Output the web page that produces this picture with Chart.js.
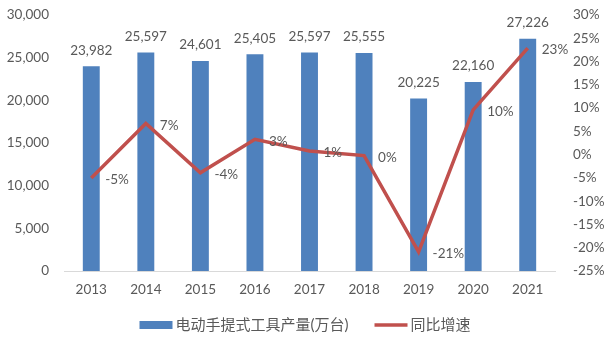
<!DOCTYPE html>
<html>
<head>
<meta charset="utf-8">
<script src="https://cdn.jsdelivr.net/npm/chart.js@4"></script>
<style>
    html, body { margin: 0; padding: 0; background: #fff; }
    .chart-box { position: relative; width: 610px; height: 346px; }
</style>
</head>
<body>
<div class="chart-box">
    <canvas id="output-canvas"></canvas>
</div>
<script>
const years = ['2013', '2014', '2015', '2016', '2017', '2018', '2019', '2020', '2021'];
const output = [23982, 25597, 24601, 25405, 25597, 25555, 20225, 22160, 27226];
const growth = [-5.0, 6.7, -3.9, 3.3, 0.8, -0.2, -20.9, 9.6, 22.9];
const leftTicks = [0, 5000, 10000, 15000, 20000, 25000, 30000];
const rightTicks = [-25, -20, -15, -10, -5, 0, 5, 10, 15, 20, 25, 30];

const TEXT = '#595959';
const BAR_COLOR = '#4F81BD';
const LINE_COLOR = '#C0504D';
const NUM_FONT = { family: 'Lato, "Liberation Sans", sans-serif', size: 13.5 };
const CJK_FONT = { family: 'Lato, "Noto Sans CJK SC", sans-serif', size: 15 };

// value labels: numbers above the bars, percentages to the right of the points
const valueLabels = {
    id: 'valueLabels',
    afterDatasetsDraw(chart) {
        const ctx = chart.ctx;
        ctx.save();
        ctx.fillStyle = TEXT;
        ctx.font = `${NUM_FONT.size}px ${NUM_FONT.family}`;
        ctx.textBaseline = 'middle';

        chart.getDatasetMeta(0).data.forEach((bar, i) => {
            ctx.textAlign = 'center';
            ctx.fillText(output[i].toLocaleString('en-US'), bar.x, bar.y - 16);
        });

        chart.getDatasetMeta(1).data.forEach((pt, i) => {
            ctx.textAlign = 'left';
            ctx.fillText(Math.round(growth[i]) + '%', pt.x + 14, pt.y + 2);
        });
        ctx.restore();
    }
};

// bottom legend: swatch tight against the text, items centred on the canvas
const bottomLegend = {
    id: 'bottomLegend',
    afterDraw(chart) {
        const ctx = chart.ctx;
        const ds = chart.data.datasets;
        const swatch = 33, textGap = 3, itemGap = 26;
        const y = 325;
        ctx.save();
        ctx.font = `${CJK_FONT.size}px ${CJK_FONT.family}`;
        ctx.textBaseline = 'middle';
        ctx.textAlign = 'left';

        const widths = ds.map(d => ctx.measureText(d.label).width);
        const total = widths.reduce((a, w) => a + swatch + textGap + w, 0) + itemGap * (ds.length - 1);
        let x = (chart.width - total) / 2;

        ds.forEach((d, i) => {
            if (d.type === 'bar') {
                ctx.fillStyle = d.backgroundColor;
                ctx.fillRect(x, y - 4, swatch, 8);
            } else {
                ctx.strokeStyle = d.borderColor;
                ctx.lineWidth = d.borderWidth;
                ctx.beginPath();
                ctx.moveTo(x, y);
                ctx.lineTo(x + swatch, y);
                ctx.stroke();
            }
            ctx.fillStyle = TEXT;
            ctx.fillText(d.label, x + swatch + textGap, y);
            x += swatch + textGap + widths[i] + itemGap;
        });
        ctx.restore();
    }
};

// fixed axis widths; drop the extra top/bottom room the tick padding adds
const fitY = width => s => {
    s.width = width;
    s.paddingTop = 0;
    s.paddingBottom = 0;
};

new Chart(document.getElementById('output-canvas'), {
    data: {
        labels: years,
        datasets: [
            {
                type: 'bar',
                label: '电动手提式工具产量(万台)',
                data: output,
                yAxisID: 'y',
                backgroundColor: BAR_COLOR,
                borderWidth: 0,
                categoryPercentage: 1,
                barPercentage: 0.31,
                order: 2
            },
            {
                type: 'line',
                label: '同比增速',
                data: growth,
                yAxisID: 'y1',
                borderColor: LINE_COLOR,
                backgroundColor: LINE_COLOR,
                borderWidth: 3.5,
                pointRadius: 0,
                tension: 0,
                order: 1
            }
        ]
    },
    options: {
        responsive: true,
        maintainAspectRatio: false,
        animation: false,
        layout: { padding: { top: 15, left: 0, right: 0, bottom: 39 } },
        scales: {
            x: {
                grid: { display: false },
                border: { color: '#D9D9D9', width: 1 },
                ticks: { color: TEXT, font: NUM_FONT, padding: 3 },
                afterFit: s => { s.height = 36; }
            },
            y: {
                position: 'left',
                min: 0,
                max: 30000,
                grid: { display: false },
                border: { display: false },
                afterBuildTicks: s => { s.ticks = leftTicks.map(v => ({ value: v })); },
                ticks: {
                    color: TEXT,
                    font: NUM_FONT,
                    padding: 7,
                    callback: v => v.toLocaleString('en-US')
                },
                afterFit: fitY(64)
            },
            y1: {
                position: 'right',
                min: -25,
                max: 30,
                grid: { display: false },
                border: { display: false },
                afterBuildTicks: s => { s.ticks = rightTicks.map(v => ({ value: v })); },
                ticks: {
                    color: TEXT,
                    font: NUM_FONT,
                    padding: 10,
                    callback: v => v + '%'
                },
                afterFit: fitY(55)
            }
        },
        plugins: {
            legend: { display: false },
            tooltip: { enabled: false }
        }
    },
    plugins: [valueLabels, bottomLegend]
});
</script>
</body>
</html>
